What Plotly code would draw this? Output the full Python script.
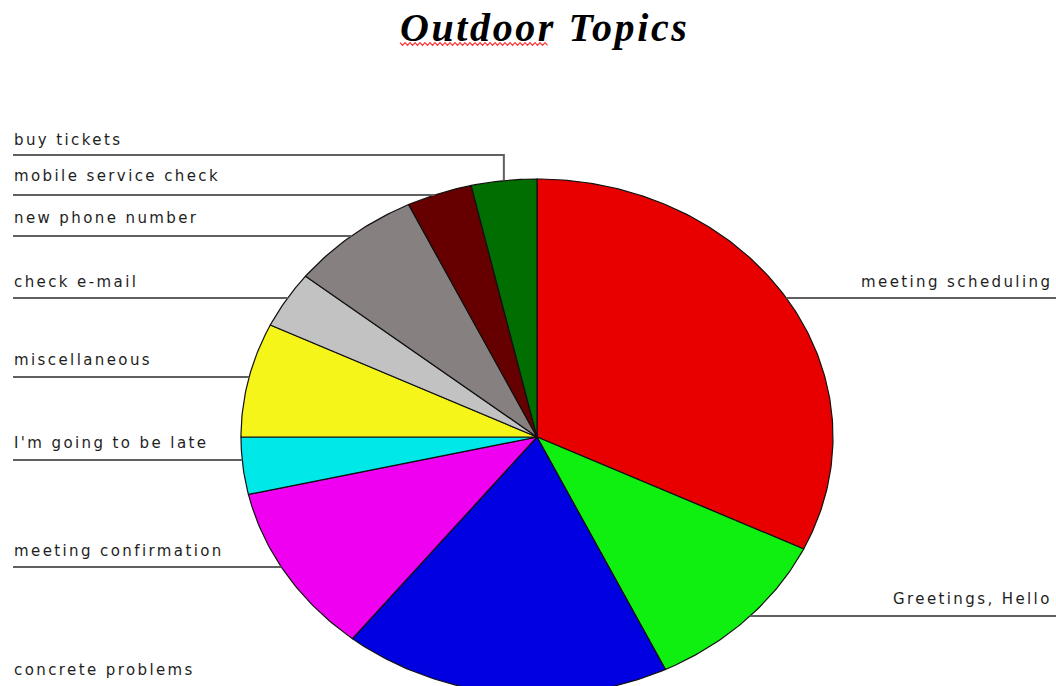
import numpy as np
import plotly.graph_objects as go

# Topic counts, listed clockwise starting at 12 o'clock
topics = [
    "meeting scheduling", "Greetings, Hello", "concrete problems",
    "meeting confirmation", "I'm going to be late", "miscellaneous",
    "check e-mail", "new phone number", "mobile service check", "buy tickets",
]
counts = [9, 3, 5, 3, 1, 2, 1, 2, 1, 1]
colors = [
    "#e80000", "#10f010", "#0000e0", "#f000f0", "#00e8e8",
    "#f5f51a", "#c2c2c2", "#878080", "#660000", "#006e00",
]

# Label placement (pixel space): side, text y, leader-line y
label_side = ["right", "right", "left", "left", "left", "left", "left", "left", "left", "left"]
label_y = [282, 599, 670, 551, 443, 360, 282, 218, 176, 140]
line_y = [298, 616, None, 567, 460, 377, 298, 236, 195, 155]

W, H = 1056, 686
CX, CY, RX, RY = 537, 437, 296, 258

fig = go.Figure()

total = float(sum(counts))
bounds = np.concatenate([[0], np.cumsum(counts)]) / total * 2 * np.pi


def edge_x(y, side):
    t = max(0.0, 1 - ((y - CY) / RY) ** 2)
    return CX + (1 if side == "right" else -1) * RX * np.sqrt(t)


# Pie slices as filled wedges of an ellipse
for name, a0, a1, col in zip(topics, bounds[:-1], bounds[1:], colors):
    th = np.linspace(a0, a1, max(8, int((a1 - a0) * 80)))
    xs = np.concatenate([[CX], CX + RX * np.sin(th), [CX]])
    ys = np.concatenate([[CY], CY - RY * np.cos(th), [CY]])
    fig.add_trace(go.Scatter(
        x=xs, y=ys, mode="lines", fill="toself", fillcolor=col,
        line=dict(color="#111111", width=1.2), name=name,
        hoverinfo="name", showlegend=False,
    ))

# Leader lines and labels
label_font = dict(family="DejaVu Sans", size=15, color="#1e1e1e")
for i, name in enumerate(topics):
    side = label_side[i]
    ly = line_y[i]
    if ly is not None:
        if name == "buy tickets":
            mid = (bounds[i] + bounds[i + 1]) / 2
            mx = CX + RX * np.sin(mid)
            my = CY - RY * np.cos(mid)
            xs, ys = [13, mx, mx], [ly, ly, my]
        elif side == "left":
            xs, ys = [13, edge_x(ly, side)], [ly, ly]
        else:
            xs, ys = [edge_x(ly, side), W], [ly, ly]
        fig.add_trace(go.Scatter(
            x=xs, y=ys, mode="lines", line=dict(color="#606060", width=2),
            hoverinfo="skip", showlegend=False,
        ))
    fig.add_annotation(
        x=12 if side == "left" else 1054, y=label_y[i],
        xref="x", yref="y",
        text=f'<span style="letter-spacing:2.4px">{name}</span>',
        showarrow=False, font=label_font,
        xanchor="left" if side == "left" else "right",
        align="left" if side == "left" else "right",
        yanchor="middle",
    )

# Title
fig.add_annotation(
    x=544, y=27, xref="x", yref="y",
    text='<span style="letter-spacing:2.6px"><b><i>Outdoor Topics</i></b></span>',
    showarrow=False, xanchor="center", yanchor="middle",
    font=dict(family="Liberation Serif", size=40, color="#000000"),
)

# Wavy spell-check underline beneath the first word
zx = np.arange(400, 549, 2.5)
zy = 44 + np.where(np.arange(len(zx)) % 2 == 0, -1.3, 1.3)
path = "M " + " L ".join(f"{a:.1f},{b:.1f}" for a, b in zip(zx, zy))
fig.add_shape(type="path", path=path, xref="x", yref="y",
              line=dict(color="#ff3030", width=1.2))

fig.update_xaxes(range=[0, W], visible=False, fixedrange=True)
fig.update_yaxes(range=[H, 0], visible=False, fixedrange=True)
fig.update_layout(
    width=W, height=H, margin=dict(l=0, r=0, t=0, b=0),
    plot_bgcolor="white", paper_bgcolor="white",
)

fig.write_html("out.html")
